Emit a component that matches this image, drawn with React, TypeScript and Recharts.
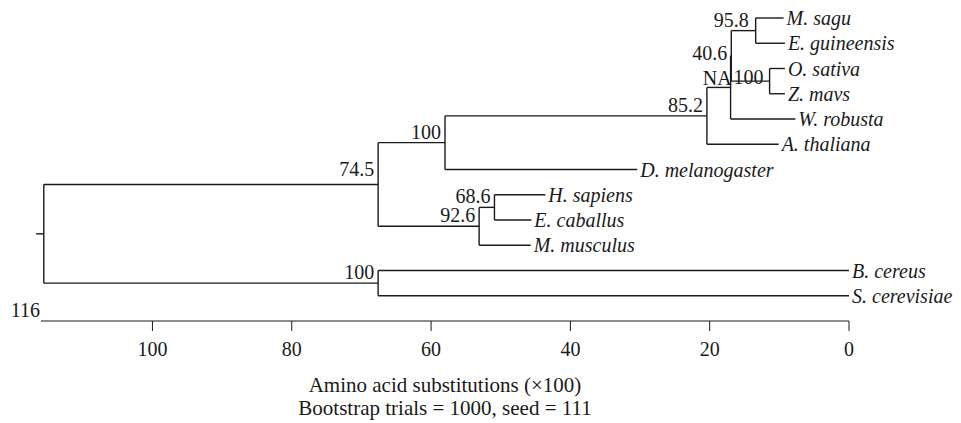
import { ScatterChart, Scatter, XAxis, YAxis, ReferenceLine } from "recharts"

// leaves, top to bottom, with their depth on the substitution axis
const leafNames = [
  "M. sagu",
  "E. guineensis",
  "O. sativa",
  "Z. mavs",
  "W. robusta",
  "A. thaliana",
  "D. melanogaster",
  "H. sapiens",
  "E. caballus",
  "M. musculus",
  "B. cereus",
  "S. cerevisiae",
]
const leafDepths = [9.4, 9.2, 9.2, 9.2, 7.7, 10.1, 30.4, 43.6, 45.6, 45.7, 0, 0]

// internal nodes: children are leaf names or indices of earlier nodes
const nodeChildren: Array<Array<string | number>> = [
  ["M. sagu", "E. guineensis"],
  ["O. sativa", "Z. mavs"],
  [0, 1],
  [2, "W. robusta"],
  [3, "A. thaliana"],
  [4, "D. melanogaster"],
  ["H. sapiens", "E. caballus"],
  [6, "M. musculus"],
  [5, 7],
  ["B. cereus", "S. cerevisiae"],
  [8, 9],
]
const nodeDepths = [13.4, 11.4, 16.9, 17.0, 20.4, 58.0, 50.9, 53.1, 67.6, 67.6, 115.6]
const nodeSupport = ["95.8", "100", "40.6", "NA", "85.2", "100", "68.6", "92.6", "74.5", "100", ""]

const rootStub = 116.7
const axisMax = 116
const axisTicks = [0, 20, 40, 60, 80, 100]

const FONT = "'Liberation Serif', 'DejaVu Serif', serif"
const INK = "#1a1a1a"

// small nudges for crowded support labels (dx, dy in px)
const labelNudge: Record<number, [number, number]> = {
  0: [-3, 0],
  1: [-2, 7],
  2: [0, 8],
  3: [5, 2],
  8: [0, -4],
}

const leafRow = (name: string) => leafNames.indexOf(name)

const nodeRows: number[] = []
const rowOf = (c: string | number) => (typeof c === "number" ? nodeRows[c] : leafRow(c))
const depthOf = (c: string | number) => (typeof c === "number" ? nodeDepths[c] : leafDepths[leafRow(c)])
nodeChildren.forEach((kids, i) => {
  const rows = kids.map(rowOf)
  nodeRows[i] = (Math.min(...rows) + Math.max(...rows)) / 2
})

const leafData = leafNames.map((name, i) => ({ x: leafDepths[i], y: i, name }))
const nodeData = nodeDepths.map((d, i) => ({ x: d, y: nodeRows[i], label: nodeSupport[i], idx: i }))

const segments: Array<[number, number, number, number]> = []
nodeChildren.forEach((kids, i) => {
  const rows = kids.map(rowOf)
  segments.push([nodeDepths[i], Math.min(...rows), nodeDepths[i], Math.max(...rows)])
  kids.forEach((k) => segments.push([nodeDepths[i], rowOf(k), depthOf(k), rowOf(k)]))
})
const root = nodeChildren.length - 1
segments.push([rootStub, nodeRows[root], nodeDepths[root], nodeRows[root]])

const LeafText = (props: any) => (
  <text x={props.cx + 3} y={props.cy} dy="0.35em" fontFamily={FONT} fontStyle="italic" fontSize={20} fill={INK}>
    {props.payload.name}
  </text>
)

const SupportText = (props: any) => {
  const p = props.payload
  if (!p.label) return <g />
  const [dx, dy] = labelNudge[p.idx] || [0, 0]
  return (
    <text x={props.cx - 4 + dx} y={props.cy - 4 + dy} textAnchor="end" fontFamily={FONT} fontSize={20} fill={INK}>
      {p.label}
    </text>
  )
}

const AxisCaption = (props: any) => {
  const vb = props.viewBox
  const mid = vb.x + vb.width / 2
  return (
    <g fontFamily={FONT} fill={INK}>
      <text x={vb.x - 1} y={vb.y - 4} textAnchor="end" fontSize={20}>
        {axisMax}
      </text>
      <text x={mid} y={vb.y + 71} textAnchor="middle" fontSize={21}>
        Amino acid substitutions (×100)
      </text>
      <text x={mid} y={vb.y + 94} textAnchor="middle" fontSize={21}>
        Bootstrap trials = 1000, seed = 111
      </text>
    </g>
  )
}

export default function App() {
  return (
    <div style={{ position: "absolute", left: 0, top: 0, background: "#fff" }}>
      <ScatterChart width={961} height={423} margin={{ top: 18, right: 112, bottom: 72, left: 41 }}>
        <XAxis
          type="number"
          dataKey="x"
          domain={[0, axisMax]}
          reversed
          ticks={axisTicks}
          tickSize={10}
          tickMargin={11}
          height={30}
          stroke={INK}
          tick={{ fill: INK, fontFamily: FONT, fontSize: 20 }}
          label={{ content: AxisCaption }}
        />
        <YAxis type="number" dataKey="y" domain={[0, 12]} reversed hide />
        {segments.map((s, i) => (
          <ReferenceLine
            key={i}
            segment={[
              { x: s[0], y: s[1] },
              { x: s[2], y: s[3] },
            ]}
            stroke={INK}
            strokeWidth={1.4}
            ifOverflow="visible"
          />
        ))}
        <Scatter data={leafData} shape={LeafText} isAnimationActive={false} />
        <Scatter data={nodeData} shape={SupportText} isAnimationActive={false} />
      </ScatterChart>
    </div>
  )
}
